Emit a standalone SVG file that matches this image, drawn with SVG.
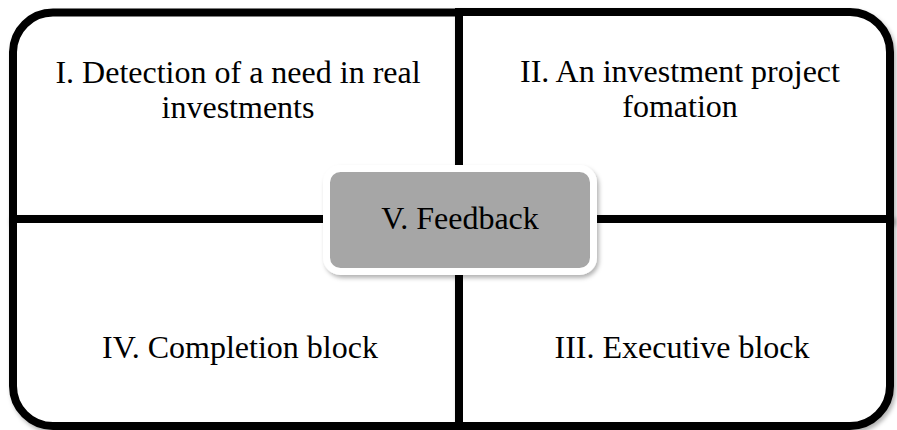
<svg xmlns="http://www.w3.org/2000/svg" width="897" height="430" viewBox="0 0 897 430">
  <defs>
    <filter id="shadow" x="-10%" y="-10%" width="125%" height="130%">
      <feGaussianBlur in="SourceAlpha" stdDeviation="2"/>
      <feOffset dx="2" dy="3" result="blur"/>
      <feFlood flood-color="#000" flood-opacity="0.3"/>
      <feComposite in2="blur" operator="in"/>
      <feMerge>
        <feMergeNode/>
        <feMergeNode in="SourceGraphic"/>
      </feMerge>
    </filter>
  </defs>
  <style>
    .quad { fill: #fff; stroke: #000; stroke-width: 8; filter: url(#shadow); }
    .label { font-family: "Liberation Serif", "Times New Roman", serif; font-size: 32px; fill: #000; text-anchor: middle; }
    .center { fill: #a6a6a6; stroke: #fff; stroke-width: 7; filter: url(#shadow); }
  </style>
  <rect width="897" height="430" fill="#fff"/>

  <!-- four quadrants, each rounded on its outer corner -->
  <g id="quad-1">
    <path class="quad" d="M13,219 V52 A40,40 0 0 1 53,12.5 H459 V219 Z"/>
    <text class="label" x="238" y="83">I. Detection of a need in real</text>
    <text class="label" x="238" y="118">investments</text>
  </g>
  <g id="quad-2">
    <path class="quad" d="M459,12 H850 A40,40 0 0 1 890,52 V219 H459 Z"/>
    <text class="label" x="680" y="82">II. An investment project</text>
    <text class="label" x="680" y="117">fomation</text>
  </g>
  <g id="quad-4">
    <path class="quad" d="M13,219 H459 V426 H53 A40,40 0 0 1 13,386 Z"/>
    <text class="label" x="240" y="358">IV. Completion block</text>
  </g>
  <g id="quad-3">
    <path class="quad" d="M459,219 H890 V386 A40,40 0 0 1 850,426 H459 Z"/>
    <text class="label" x="682" y="358">III. Executive block</text>
  </g>

  <!-- central feedback block -->
  <g id="feedback">
    <rect class="center" x="326.5" y="168.5" width="267" height="103" rx="14"/>
    <text class="label" x="460" y="229">V. Feedback</text>
  </g>
</svg>
